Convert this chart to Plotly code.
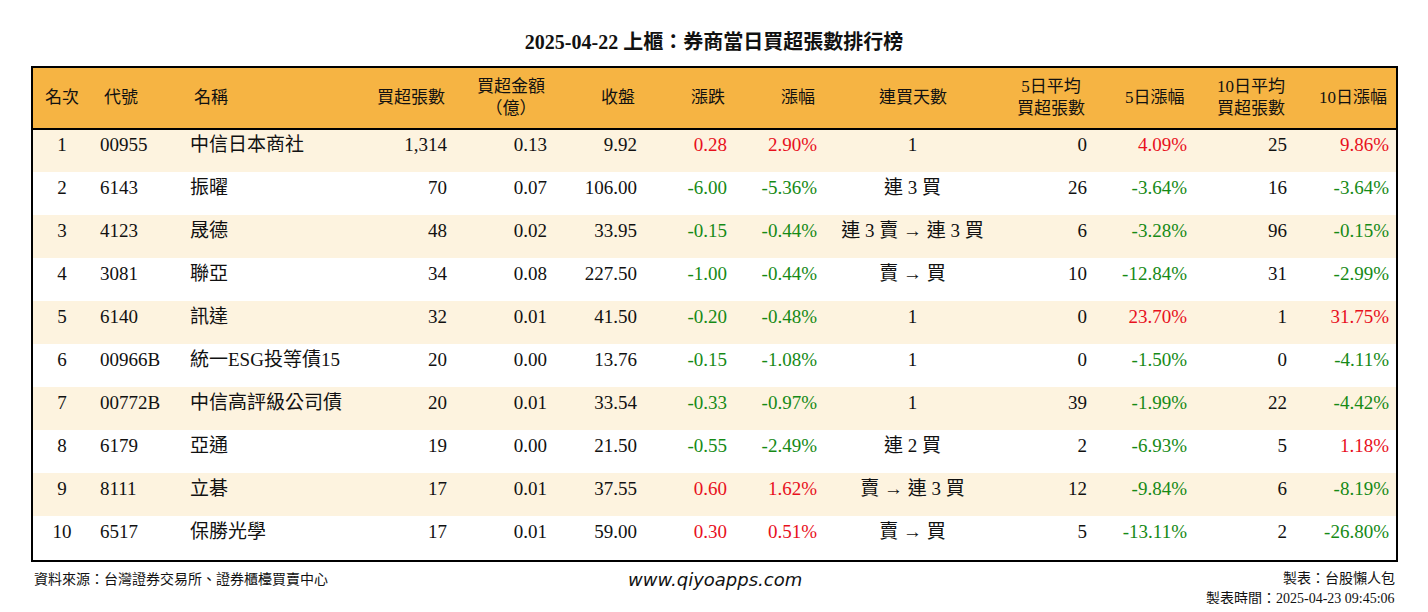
import plotly.graph_objects as go

rank = [1,2,3,4,5,6,7,8,9,10]
codes = ["00955","6143","4123","3081","6140","00966B","00772B","6179","8111","6517"]
names = ["中信日本商社","振曜","晟德","聯亞","訊達","統一ESG投等債15","中信高評級公司債","亞通","立碁","保勝光學"]
net_lots = [1314,70,48,34,32,20,20,19,17,17]
net_amt = [0.13,0.07,0.02,0.08,0.01,0.00,0.01,0.00,0.01,0.01]
close = [9.92,106.00,33.95,227.50,41.50,13.76,33.54,21.50,37.55,59.00]
chg = [0.28,-6.00,-0.15,-1.00,-0.20,-0.15,-0.33,-0.55,0.60,0.30]
chg_pct = [2.90,-5.36,-0.44,-0.44,-0.48,-1.08,-0.97,-2.49,1.62,0.51]
streak = ["1","連 3 買","連 3 賣 → 連 3 買","賣 → 買","1","1","1","連 2 買","賣 → 連 3 買","賣 → 買"]
avg5 = [0,26,6,10,0,0,39,2,12,5]
pct5 = [4.09,-3.64,-3.28,-12.84,23.70,-1.50,-1.99,-6.93,-9.84,-13.11]
avg10 = [25,16,96,31,1,0,22,5,6,2]
pct10 = [9.86,-3.64,-0.15,-2.99,31.75,-4.11,-4.42,1.18,-8.19,-26.80]

headers = ["名次","代號","名稱","買超張數","買超金額<br>（億）","收盤","漲跌","漲幅","連買天數",
           "5日平均<br>買超張數","5日漲幅","10日平均<br>買超張數","10日漲幅"]

RED, GREEN, BLK = "#E8101C", "#168A16", "#111111"
def col(vals):
    return [RED if v > 0 else (GREEN if v < 0 else BLK) for v in vals]

cols = [
    [str(r) for r in rank], codes, names,
    [f"{v:,}" for v in net_lots], [f"{v:.2f}" for v in net_amt], [f"{v:.2f}" for v in close],
    [f"{v:.2f}" for v in chg], [f"{v:.2f}%" for v in chg_pct], streak,
    [str(v) for v in avg5], [f"{v:.2f}%" for v in pct5], [str(v) for v in avg10], [f"{v:.2f}%" for v in pct10],
]
fcolors = [[BLK]*10]*6 + [col(chg), col(chg_pct), [BLK]*10, [BLK]*10, col(pct5), [BLK]*10, col(pct10)]
widths = [60,90,178,95,100,90,90,90,175,95,100,100,102]
align = ["center","left","left","right","right","right","right","right","center","right","right","right","right"]
rowfill = ["#FDF3DF" if i % 2 == 0 else "#FFFFFF" for i in range(10)]
FONT = "Liberation Serif, Noto Sans CJK TC, serif"
HFILL = "#F6B443"

W, HGT = 1412, 596
ML, MT = 24, 59
TW = sum(widths)
TH = 494
MR = W - ML - TW
MB = HGT - MT - TH

fig = go.Figure(go.Table(
    columnwidth=widths,
    header=dict(values=[""]*13, fill_color=HFILL, line=dict(color=HFILL, width=0),
                align=align, height=62, font=dict(family=FONT, size=17, color=BLK)),
    cells=dict(values=cols, fill_color=[rowfill]*13, line=dict(color=[rowfill]*13, width=0),
               align=align, height=43, font=dict(family=FONT, size=19, color=fcolors)),
))

anns = []
x = 0
for w, h, a in zip(widths, headers, align):
    if a == "left":
        px, xa = x + 10, "left"
    elif a == "right":
        px, xa = x + w - 8, "right"
    else:
        px, xa = x + w / 2, "center"
    anns.append(dict(text=h, xref="paper", yref="paper", x=px / TW, y=1 - 31 / TH, xanchor=xa,
                     yanchor="middle", showarrow=False, align="center",
                     font=dict(family=FONT, size=17, color=BLK)))
    x += w

anns += [
    dict(text="資料來源：台灣證券交易所、證券櫃檯買賣中心", xref="paper", yref="paper", x=0, y=0, yshift=-8,
         xanchor="left", yanchor="top", showarrow=False, font=dict(family=FONT, size=14, color=BLK)),
    dict(text="<i>www.qiyoapps.com</i>", xref="paper", yref="paper", x=0.5, y=0, yshift=-6,
         xanchor="center", yanchor="top", showarrow=False, font=dict(family="DejaVu Sans", size=18, color=BLK)),
    dict(text="製表：台股懶人包", xref="paper", yref="paper", x=1, y=0, yshift=-8,
         xanchor="right", yanchor="top", showarrow=False, font=dict(family=FONT, size=14, color=BLK)),
    dict(text="製表時間：2025-04-23 09:45:06", xref="paper", yref="paper", x=1, y=0, yshift=-28,
         xanchor="right", yanchor="top", showarrow=False, font=dict(family=FONT, size=14, color=BLK)),
]

fig.update_layout(
    width=W, height=HGT, margin=dict(l=ML, r=MR, t=MT, b=MB),
    paper_bgcolor="white", plot_bgcolor="white",
    title=dict(text="<b>2025-04-22 上櫃：券商當日買超張數排行榜</b>", x=0.5, y=1 - 34 / HGT, xanchor="center",
               yanchor="middle", font=dict(family=FONT, size=20, color=BLK)),
    shapes=[
        dict(type="rect", xref="paper", yref="paper", x0=0, x1=1, y0=0, y1=1, line=dict(color="black", width=2)),
        dict(type="line", xref="paper", yref="paper", x0=0, x1=1, y0=1-62/TH, y1=1-62/TH, line=dict(color="black", width=2)),
    ],
    annotations=anns,
)
fig.write_html("out.html")
